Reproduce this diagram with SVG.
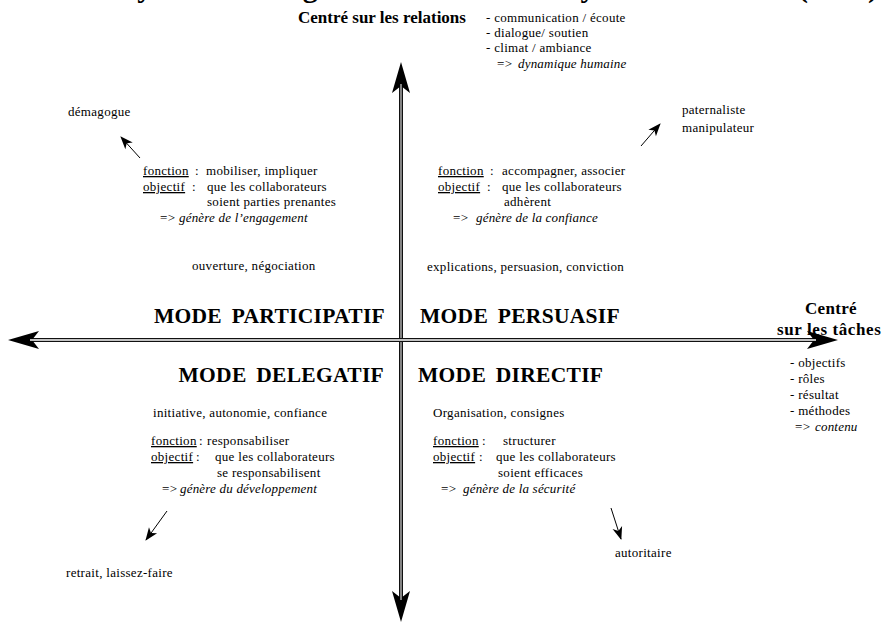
<svg xmlns="http://www.w3.org/2000/svg" width="886" height="624" viewBox="0 0 886 624" font-family="'Liberation Serif', 'Times New Roman', Times, 'DejaVu Serif', serif">
<defs>
<style>
text{fill:#000}
.t{font-size:13px;letter-spacing:0.3px}
.i{font-style:italic;letter-spacing:0.2px}
.u{text-decoration:underline}
.b{font-size:17px;font-weight:bold;letter-spacing:0.3px}
.m{font-size:21.5px;font-weight:bold;letter-spacing:0.3px;word-spacing:4px}
.title{font-size:30px;font-weight:bold}
.ax-o{stroke:#111;stroke-width:4;fill:none}
.ax-iv{stroke:#b5b5b5;stroke-width:1.4;fill:none}
.ax-ih{stroke:#fff;stroke-width:1.4;fill:none}
.sm{stroke:#000;stroke-width:1;fill:none}
</style>
<marker id="big" markerUnits="userSpaceOnUse" viewBox="-12 -11 36 22" refX="0" refY="0" markerWidth="36" markerHeight="22" orient="auto-start-reverse" overflow="visible">
<path d="M22,0 L-9,-9 L-2,0 L-9,9 Z" fill="#000"/>
</marker>
<marker id="small" markerUnits="userSpaceOnUse" viewBox="-13 -6 14 12" refX="0" refY="0" markerWidth="14" markerHeight="12" orient="auto" overflow="visible">
<path d="M1,0 L-12,-5 L-8.5,0 L-12,5 Z" fill="#000"/>
</marker>
</defs>
<rect width="886" height="624" fill="#fff"/>

<g id="title">
<text class="title" y="-3"><tspan x="63">Les styles de</tspan><tspan x="231">management</tspan><tspan x="433">selon Hersey</tspan><tspan x="602">et Blanchard</tspan><tspan x="798">(1977)</tspan></text>
</g>

<g id="connectors">
<line class="ax-o" x1="401" y1="600" x2="401" y2="84" marker-start="url(#big)" marker-end="url(#big)"/>
<line class="ax-iv" x1="401" y1="600" x2="401" y2="84"/>
<line class="ax-o" x1="30" y1="340" x2="816" y2="340" marker-start="url(#big)" marker-end="url(#big)"/>
<line class="ax-ih" x1="30" y1="340" x2="816" y2="340"/>
<line class="sm" x1="140" y1="158" x2="121" y2="137" marker-end="url(#small)"/>
<line class="sm" x1="641" y1="146" x2="660" y2="124" marker-end="url(#small)"/>
<line class="sm" x1="167" y1="511" x2="146" y2="540" marker-end="url(#small)"/>
<line class="sm" x1="611" y1="508" x2="621" y2="539" marker-end="url(#small)"/>
</g>

<g id="axis-relations">
<text class="b" x="298" y="23" style="letter-spacing:0">Centré sur les relations</text>
<text class="t" x="486" y="22">- communication / écoute</text>
<text class="t" x="486" y="37">- dialogue/ soutien</text>
<text class="t" x="486" y="52">- climat / ambiance</text>
<text class="t" x="497" y="68">=&gt;</text>
<text class="t i" x="518" y="68">dynamique humaine</text>
</g>

<g id="axis-taches">
<text class="b" x="805" y="314">Centré</text>
<text class="b" x="777" y="335" style="letter-spacing:0.6px">sur les tâches</text>
<text class="t" x="790" y="367">- objectifs</text>
<text class="t" x="790" y="383">- rôles</text>
<text class="t" x="790" y="399">- résultat</text>
<text class="t" x="790" y="415">- méthodes</text>
<text class="t" x="795" y="431">=&gt;</text>
<text class="t i" x="815" y="431">contenu</text>
</g>

<g id="participatif">
<text class="m" x="385" y="323" text-anchor="end">MODE PARTICIPATIF</text>
<text class="t" x="68" y="116">démagogue</text>
<text class="t u" x="143" y="175">fonction</text>
<text class="t" x="195" y="175">:</text>
<text class="t" x="206" y="175">mobiliser, impliquer</text>
<text class="t u" x="143" y="191">objectif</text>
<text class="t" x="192" y="191">:</text>
<text class="t" x="207" y="191">que les collaborateurs</text>
<text class="t" x="207" y="206">soient parties prenantes</text>
<text class="t" x="160" y="222">=&gt;</text>
<text class="t i" x="179" y="222">génère de l’engagement</text>
<text class="t" x="192" y="270">ouverture, négociation</text>
</g>

<g id="persuasif">
<text class="m" x="420" y="323">MODE PERSUASIF</text>
<text class="t" x="682" y="114">paternaliste</text>
<text class="t" x="682" y="132">manipulateur</text>
<text class="t u" x="438" y="175">fonction</text>
<text class="t" x="490" y="175">:</text>
<text class="t" x="502" y="175">accompagner, associer</text>
<text class="t u" x="438" y="191">objectif</text>
<text class="t" x="487" y="191">:</text>
<text class="t" x="502" y="191">que les collaborateurs</text>
<text class="t" x="504" y="206">adhèrent</text>
<text class="t" x="453" y="222">=&gt;</text>
<text class="t i" x="476" y="222">génère de la confiance</text>
<text class="t" x="427" y="271">explications, persuasion, conviction</text>
</g>

<g id="delegatif">
<text class="m" x="384" y="382" text-anchor="end">MODE DELEGATIF</text>
<text class="t" x="153" y="417">initiative, autonomie, confiance</text>
<text class="t u" x="151" y="445">fonction</text>
<text class="t" x="199" y="445">:</text>
<text class="t" x="207" y="445">responsabiliser</text>
<text class="t u" x="151" y="461">objectif</text>
<text class="t" x="196" y="461">:</text>
<text class="t" x="215" y="461">que les collaborateurs</text>
<text class="t" x="217" y="477">se responsabilisent</text>
<text class="t" x="162" y="493">=&gt;</text>
<text class="t i" x="180" y="493">génère du développement</text>
<text class="t" x="66" y="577">retrait, laissez-faire</text>
</g>

<g id="directif">
<text class="m" x="418" y="382">MODE DIRECTIF</text>
<text class="t" x="433" y="417">Organisation, consignes</text>
<text class="t u" x="433" y="445">fonction</text>
<text class="t" x="482" y="445">:</text>
<text class="t" x="503" y="445">structurer</text>
<text class="t u" x="433" y="461">objectif</text>
<text class="t" x="479" y="461">:</text>
<text class="t" x="496" y="461">que les collaborateurs</text>
<text class="t" x="498" y="477">soient efficaces</text>
<text class="t" x="441" y="493">=&gt;</text>
<text class="t i" x="463" y="493">génère de la sécurité</text>
<text class="t" x="615" y="557">autoritaire</text>
</g>
</svg>
